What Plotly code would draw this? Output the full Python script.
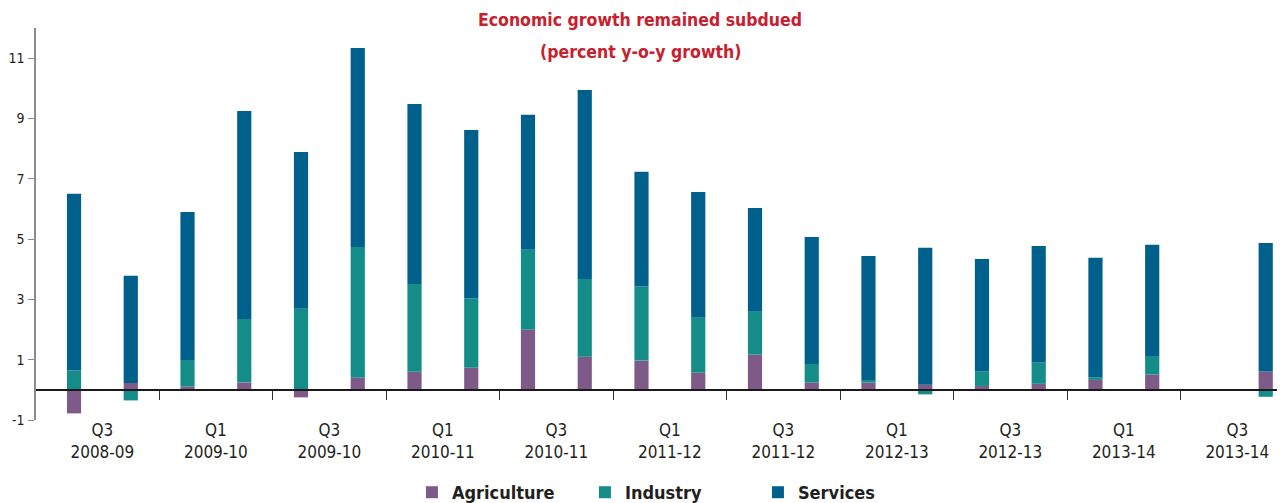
import plotly.graph_objects as go

quarters = [
    "Q3 2008-09", "Q4 2008-09",
    "Q1 2009-10", "Q2 2009-10", "Q3 2009-10", "Q4 2009-10",
    "Q1 2010-11", "Q2 2010-11", "Q3 2010-11", "Q4 2010-11",
    "Q1 2011-12", "Q2 2011-12", "Q3 2011-12", "Q4 2011-12",
    "Q1 2012-13", "Q2 2012-13", "Q3 2012-13", "Q4 2012-13",
    "Q1 2013-14", "Q2 2013-14", "(no data)", "Q3 2013-14",
]
agriculture = [-0.78, 0.23, 0.11, 0.24, -0.25, 0.40, 0.60, 0.73, 1.99, 1.10,
               0.97, 0.57, 1.17, 0.24, 0.24, 0.17, 0.13, 0.20, 0.33, 0.51,
               None, 0.61]
industry = [0.64, -0.35, 0.88, 2.11, 2.69, 4.34, 2.91, 2.30, 2.66, 2.58,
            2.46, 1.82, 1.42, 0.62, 0.09, -0.15, 0.48, 0.71, 0.08, 0.59,
            None, -0.23]
services = [5.86, 3.55, 4.91, 6.90, 5.20, 6.60, 5.97, 5.59, 4.47, 6.26,
            3.80, 4.17, 3.44, 4.21, 4.11, 4.54, 3.73, 3.86, 3.97, 3.71,
            None, 4.26]

tick_labels = ["Q3<br>2008-09", "Q1<br>2009-10", "Q3<br>2009-10", "Q1<br>2010-11",
               "Q3<br>2010-11", "Q1<br>2011-12", "Q3<br>2011-12", "Q1<br>2012-13",
               "Q3<br>2012-13", "Q1<br>2013-14", "Q3<br>2013-14"]
y_ticks = [-1, 1, 3, 5, 7, 9, 11]
y_tick_text = ["-1", "1", "3", "5", "7", "9", "11"]

title_lines = ["Economic growth remained subdued", "(percent y-o-y growth)"]

FONT = "DejaVu Sans Condensed, DejaVu Sans, sans-serif"
TXT = "#231f20"

x = list(range(len(quarters)))
label_pos = [2 * i + 0.5 for i in range(len(tick_labels))]
minor_pos = [2 * i + 1.5 for i in range(len(tick_labels))]

fig = go.Figure()
for name, vals, col in [("Agriculture", agriculture, "#7e5a88"),
                        ("Industry", industry, "#148c87"),
                        ("Services", services, "#00608c")]:
    fig.add_trace(go.Bar(x=x, y=vals, name=name, marker_color=col,
                         marker_line_width=0, width=0.25,
                         hovertext=quarters))

for line, ypos in zip(title_lines, [1.0204, 0.9388]):
    fig.add_annotation(
        text="<b>" + line + "</b>", x=0.4836, xref="paper", xanchor="center",
        y=ypos, yref="paper", yanchor="middle", showarrow=False,
        font=dict(family=FONT, size=17.5, color="#c8202e"),
    )

fig.update_layout(
    width=1277, height=495,
    barmode="relative",
    plot_bgcolor="white", paper_bgcolor="white",
    margin=dict(l=28, r=0, t=20, b=83, autoexpand=False),
    font=dict(family=FONT, color=TXT, size=16),
    legend=dict(
        orientation="h", x=0.301, xanchor="left", y=-0.185, yanchor="middle",
        font=dict(family=FONT, size=18, color=TXT, weight="bold"),
        entrywidth=128, entrywidthmode="pixels",
        traceorder="normal",
    ),
    showlegend=True,
)

fig.update_xaxes(
    range=[-0.67, 21.34], automargin=False,
    tickmode="array", tickvals=label_pos, ticktext=tick_labels,
    ticks="", showgrid=False, zeroline=False,
    showline=True, linecolor="#1a1a1a", linewidth=1.5,
    anchor="free", position=1 / 13,
    ticklabelstandoff=25,
    tickfont=dict(family=FONT, size=17, color=TXT),
    minor=dict(tickmode="array", tickvals=minor_pos, ticks="outside",
               ticklen=9, tickwidth=1.2, tickcolor="#333333", showgrid=False),
)
fig.update_yaxes(
    range=[-1, 12], automargin=False,
    tickmode="array", tickvals=y_ticks, ticktext=y_tick_text,
    ticks="outside", ticklen=6, tickcolor="#8c8c8c", tickwidth=1.2,
    showline=True, linecolor="#8c8c8c", linewidth=1.5,
    showgrid=False, zeroline=False,
    tickfont=dict(family=FONT, size=14, color=TXT),
    ticklabelstandoff=1,
)

fig.write_html("out.html")
